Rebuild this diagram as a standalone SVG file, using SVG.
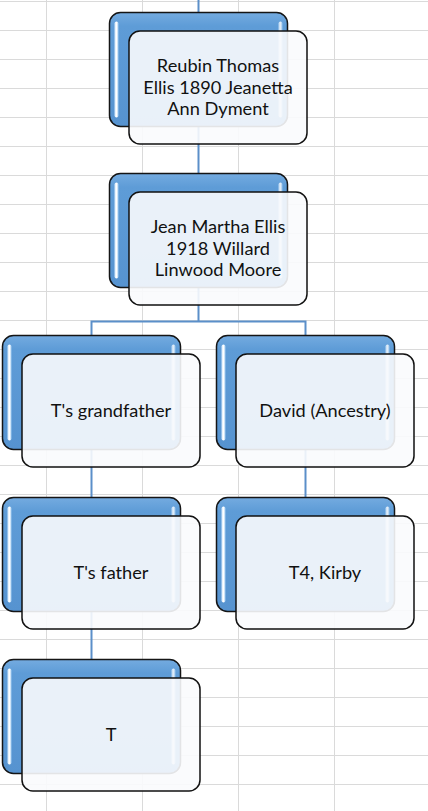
<svg xmlns="http://www.w3.org/2000/svg" width="428" height="811" viewBox="0 0 428 811">
  <defs>
    <linearGradient id="blueFill" x1="0" y1="0" x2="0" y2="1">
      <stop offset="0" stop-color="#74abe0"/>
      <stop offset="0.12" stop-color="#5e9cd7"/>
      <stop offset="1" stop-color="#5693d0"/>
    </linearGradient>
    <linearGradient id="hiFill" x1="0" y1="0" x2="1" y2="0">
      <stop offset="0" stop-color="#cfe6fb"/>
      <stop offset="0.5" stop-color="#ffffff"/>
      <stop offset="1" stop-color="#9fcaf0"/>
    </linearGradient>
    <style>
      .grid { stroke: #dadada; stroke-width: 1; }
      .conn { stroke: #5b8fc9; stroke-width: 2; fill: none; }
      .back { fill: url(#blueFill); stroke: #151515; stroke-width: 1.5; }
      .hi { fill: url(#hiFill); }
      .front { fill: #fafbfd; fill-opacity: 0.9; stroke: #111111; stroke-width: 1.5; }
      .lbl { font-family: Lato, "Liberation Sans", sans-serif; font-size: 18.2px; fill: #111111; text-anchor: middle; }
    </style>
    <g id="box">
      <rect class="back" x="0" y="0" width="178" height="114" rx="11"/>
      <rect class="hi" x="5" y="9" width="4" height="96" rx="2"/>
      <rect class="hi" x="169" y="9" width="4" height="96" rx="2" opacity="0.8"/>
      <rect class="front" x="19.5" y="18.5" width="178" height="113" rx="11"/>
    </g>
  </defs>

  <rect x="0" y="0" width="428" height="811" fill="#ffffff"/>

  <g id="grid">
    <line class="grid" x1="46.5" y1="0" x2="46.5" y2="811"/>
    <line class="grid" x1="142.5" y1="0" x2="142.5" y2="811"/>
    <line class="grid" x1="238.5" y1="0" x2="238.5" y2="811"/>
    <line class="grid" x1="334.5" y1="0" x2="334.5" y2="811"/>
    <line class="grid" x1="0" y1="1.5" x2="428" y2="1.5"/>
    <line class="grid" x1="0" y1="30.5" x2="428" y2="30.5"/>
    <line class="grid" x1="0" y1="59.5" x2="428" y2="59.5"/>
    <line class="grid" x1="0" y1="88.5" x2="428" y2="88.5"/>
    <line class="grid" x1="0" y1="117.5" x2="428" y2="117.5"/>
    <line class="grid" x1="0" y1="146.5" x2="428" y2="146.5"/>
    <line class="grid" x1="0" y1="175.5" x2="428" y2="175.5"/>
    <line class="grid" x1="0" y1="204.5" x2="428" y2="204.5"/>
    <line class="grid" x1="0" y1="233.5" x2="428" y2="233.5"/>
    <line class="grid" x1="0" y1="262.5" x2="428" y2="262.5"/>
    <line class="grid" x1="0" y1="291.5" x2="428" y2="291.5"/>
    <line class="grid" x1="0" y1="320.5" x2="428" y2="320.5"/>
    <line class="grid" x1="0" y1="349.5" x2="428" y2="349.5"/>
    <line class="grid" x1="0" y1="378.5" x2="428" y2="378.5"/>
    <line class="grid" x1="0" y1="407.5" x2="428" y2="407.5"/>
    <line class="grid" x1="0" y1="436.5" x2="428" y2="436.5"/>
    <line class="grid" x1="0" y1="465.5" x2="428" y2="465.5"/>
    <line class="grid" x1="0" y1="494.5" x2="428" y2="494.5"/>
    <line class="grid" x1="0" y1="523.5" x2="428" y2="523.5"/>
    <line class="grid" x1="0" y1="552.5" x2="428" y2="552.5"/>
    <line class="grid" x1="0" y1="581.5" x2="428" y2="581.5"/>
    <line class="grid" x1="0" y1="610.5" x2="428" y2="610.5"/>
    <line class="grid" x1="0" y1="639.5" x2="428" y2="639.5"/>
    <line class="grid" x1="0" y1="668.5" x2="428" y2="668.5"/>
    <line class="grid" x1="0" y1="697.5" x2="428" y2="697.5"/>
    <line class="grid" x1="0" y1="726.5" x2="428" y2="726.5"/>
    <line class="grid" x1="0" y1="755.5" x2="428" y2="755.5"/>
    <line class="grid" x1="0" y1="784.5" x2="428" y2="784.5"/>
  </g>

  <g id="connectors">
    <path class="conn" d="M198.5,0 V12.5"/>
    <path class="conn" d="M198.5,126.5 V173.5"/>
    <path class="conn" d="M198.5,287.5 V321.5 M91.5,335.5 V321.5 H305.5 V335.5"/>
    <path class="conn" d="M91.5,449.5 V497.5"/>
    <path class="conn" d="M305.5,449.5 V497.5"/>
    <path class="conn" d="M91.5,611.5 V659.5"/>
  </g>

  <g id="node-reubin" transform="translate(109.5,12.5)">
    <use href="#box"/>
    <text class="lbl" x="108.5" y="59.3">Reubin Thomas</text>
    <text class="lbl" x="108.5" y="81">Ellis 1890 Jeanetta</text>
    <text class="lbl" x="108.5" y="102.7">Ann Dyment</text>
  </g>

  <g id="node-jean" transform="translate(109.5,173.5)">
    <use href="#box"/>
    <text class="lbl" x="108.5" y="59.3">Jean Martha Ellis</text>
    <text class="lbl" x="108.5" y="81">1918 Willard</text>
    <text class="lbl" x="108.5" y="102.7">Linwood Moore</text>
  </g>

  <g id="node-grandfather" transform="translate(2.5,335.5)">
    <use href="#box"/>
    <text class="lbl" x="108.5" y="81.5">T's grandfather</text>
  </g>

  <g id="node-david" transform="translate(216.5,335.5)">
    <use href="#box"/>
    <text class="lbl" x="108.5" y="81.5">David (Ancestry)</text>
  </g>

  <g id="node-father" transform="translate(2.5,497.5)">
    <use href="#box"/>
    <text class="lbl" x="108.5" y="81.5">T's father</text>
  </g>

  <g id="node-t4" transform="translate(216.5,497.5)">
    <use href="#box"/>
    <text class="lbl" x="108.5" y="81.5">T4, Kirby</text>
  </g>

  <g id="node-t" transform="translate(2.5,659.5)">
    <use href="#box"/>
    <text class="lbl" x="108.5" y="81.5">T</text>
  </g>
</svg>
